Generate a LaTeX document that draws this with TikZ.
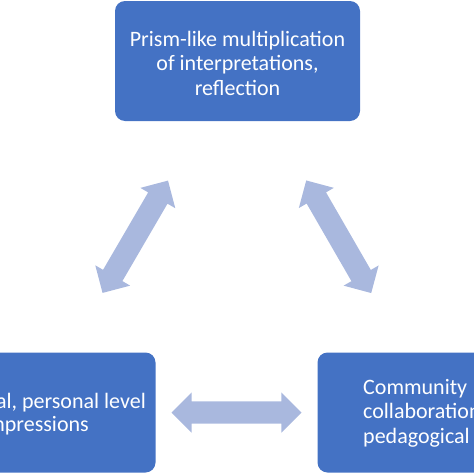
\documentclass[tikz,border=0pt]{standalone}
\usepackage{fontspec}
\setmainfont{Carlito}
\usetikzlibrary{shapes.arrows}
\definecolor{boxblue}{HTML}{4472C4}
\definecolor{arrowblue}{HTML}{A9B8DE}

\begin{document}
\begin{tikzpicture}[x=1pt, y=-1pt,
    box/.style={rectangle, rounded corners=10pt, fill=boxblue, minimum width=245pt, minimum height=120pt, inner sep=0pt},
    label/.style={text=white, font=\fontsize{22}{24.5}\selectfont, inner sep=0pt},
    link/.style={double arrow, fill=arrowblue, minimum height=130pt, minimum width=40pt, double arrow head extend=9pt, inner xsep=0pt, inner ysep=11pt, sloped}]
    \useasboundingbox (0, 0) rectangle (474, 474);
    \clip (0, 0) rectangle (474, 474);
    \node[box] (prism) at (237.5, 61) {};
    \node[box] (personal) at (33, 412.5) {};
    \node[box] (community) at (440, 412.5) {};
    \node[label, align=center] (prismtext) at (237.5, 63) {Prism-like multiplication\\of interpretations,\\reflection};
    \node[label, anchor=base east] (personaltext) at (146, 408) {al, personal level};
    \node[label, anchor=base east] (impressionstext) at (89, 431) {mpressions};
    \node[label, align=left, anchor=west] (communitytext) at (363, 413) {Community\\collaboration\\pedagogical};
    \path (prism) -- node[link] (leftlink) {} (personal);
    \path (prism) -- node[link] (rightlink) {} (community);
    \path (personal) -- node[link] (baselink) {} (community);
\end{tikzpicture}
\end{document}
